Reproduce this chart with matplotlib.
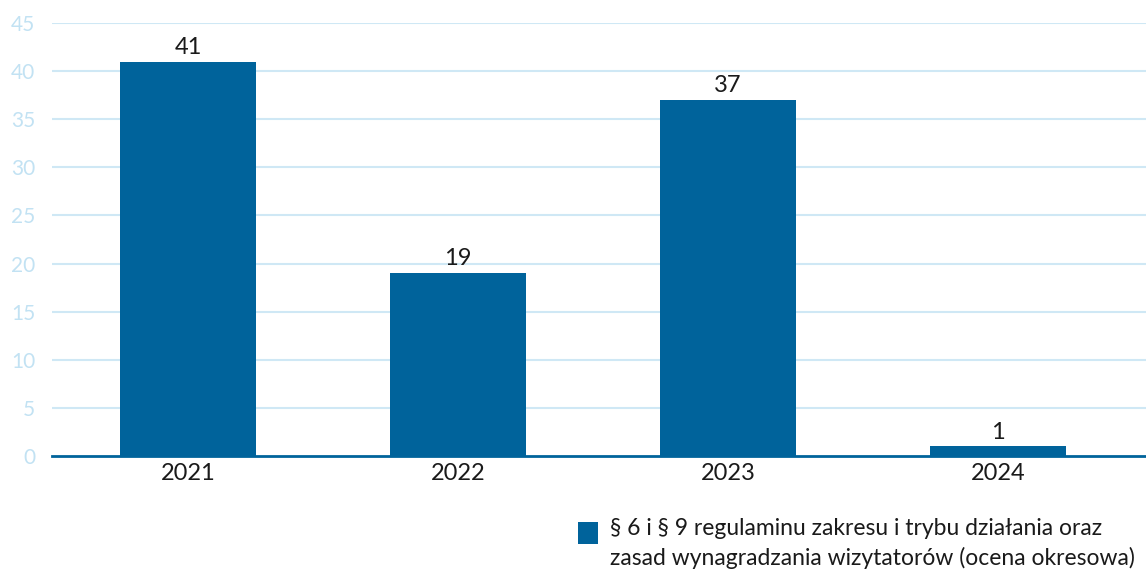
import matplotlib
matplotlib.use("Agg")
import matplotlib.pyplot as plt
from matplotlib.patches import Rectangle

years = ["2021", "2022", "2023", "2024"]
values = [41, 19, 37, 1]
series_label = "§ 6 i § 9 regulaminu zakresu i trybu działania oraz\nzasad wynagradzania wizytatorów (ocena okresowa)"
yticks = [0, 5, 10, 15, 20, 25, 30, 35, 40, 45]

bar_color = "#00639b"
grid_color = "#cfe8f5"
tick_color = "#c2e2f3"
text_color = "#1a1a1a"

plt.rcParams['font.family'] = ['Lato', 'DejaVu Sans']

fig = plt.figure(figsize=(11.46, 5.76), dpi=100)
ax = fig.add_axes([0.0454, 0.2083, 0.9546, 0.7517])

x = list(range(len(years)))
bars = ax.bar(x, values, width=0.504, color=bar_color, zorder=3)
for xi, v in zip(x, values):
    ax.text(xi, v + 0.4, str(v), ha='center', va='bottom', fontsize=17, color=text_color)

ax.set_ylim(0, 45)
ax.set_xlim(-0.504, 3.548)
ax.set_yticks(yticks)
ax.set_yticklabels([str(t) for t in yticks], color=tick_color, fontsize=15)
ax.set_xticks(x)
ax.set_xticklabels(years, fontsize=17, color=text_color)
ax.tick_params(axis='y', length=0, pad=12)
ax.tick_params(axis='x', length=0, pad=5)
for t in yticks[1:]:
    ax.axhline(t, color=grid_color, lw=1.5, zorder=1)
for s in ['top', 'right', 'left']:
    ax.spines[s].set_visible(False)
ax.spines['bottom'].set_color(bar_color)
ax.spines['bottom'].set_linewidth(2)
ax.spines['bottom'].set_zorder(4)

# legend (manual, square aligned with first line)
W, H = 1146.0, 576.0
fig.patches.append(Rectangle((578 / W, 1 - 544 / H), 20 / W, 22 / H,
                             transform=fig.transFigure, facecolor=bar_color,
                             edgecolor='none'))
fig.text(610 / W, 1 - 518 / H, series_label, ha='left', va='top',
         fontsize=16.5, color=text_color, linespacing=1.45)

fig.savefig("out.png", dpi=100)
